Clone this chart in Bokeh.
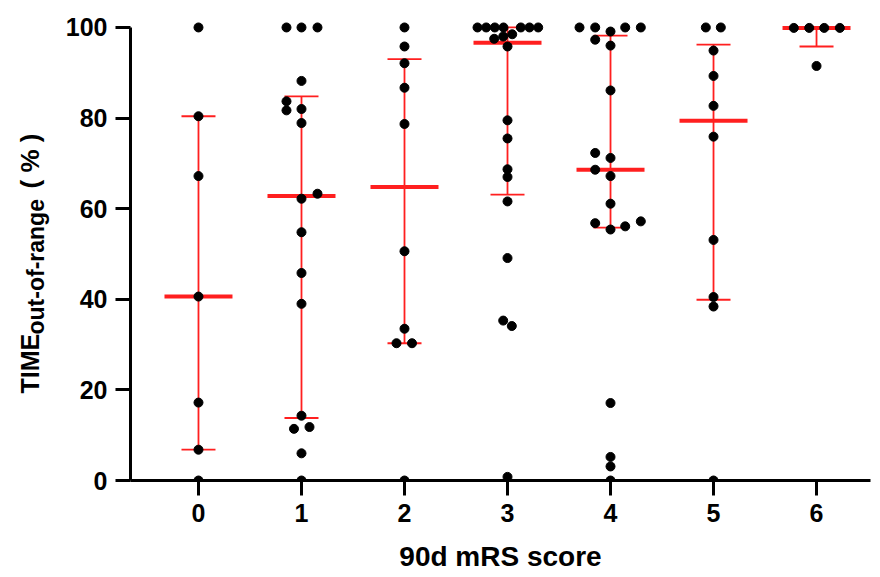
import math
from bokeh.plotting import figure
from bokeh.layouts import row
from bokeh.models import Range1d, FixedTicker
from bokeh.core.properties import value
from bokeh.embed import file_html
from bokeh.resources import INLINE

# ---------------- data ----------------
groups = [0, 1, 2, 3, 4, 5, 6]
tick_labels = ["0", "1", "2", "3", "4", "5", "6"]
y_ticks = [0, 20, 40, 60, 80, 100]
x_title = "90d mRS score"
y_title_parts = ["TIME", "out-of-range", "( % )"]

# individual values per mRS group, with beeswarm offsets (in pixels)
g0_vals = [100, 80.4, 67.2, 40.6, 17.2, 6.8, 0]
g0_swarm = [0, 0, 0, 0, 0, 0, 0]
g1_vals = [100, 100, 100, 88.2, 83.7, 81.7, 82.0, 78.9, 63.3, 62.2, 54.8, 45.8, 39.0, 14.3, 11.4, 11.8, 6.0, 0]
g1_swarm = [-15, 0, 16, 0, -15, -15, 0, 0, 16, 0, 0, 0, 0, 0, -7.5, 8, 0, 0]
g2_vals = [100, 95.8, 92.1, 86.7, 78.7, 50.6, 33.5, 30.3, 30.3, 0]
g2_swarm = [0, 0, 0, 0, 0, 0, 0, -8, 7.5, 0]
g3_vals = [100, 100, 100, 100, 100, 100, 100, 97.5, 98.0, 98.5, 95.8, 79.5, 75.5, 68.7, 67.0, 61.6, 49.1, 35.3, 34.1, 0.8]
g3_swarm = [-30, -21.3, -12.7, -4, 13.3, 22, 30.7, -13.3, -4.3, 4.7, 0, 0, 0, 0, 0, 0, 0, -4.3, 4.3, 0]
g4_vals = [100, 100, 100, 100, 99.1, 97.3, 96.0, 86.1, 72.3, 71.2, 68.6, 67.2, 61.1, 56.8, 55.4, 56.1, 57.2, 17.1, 5.2, 3.1, 0]
g4_swarm = [-31, -15.3, 14.7, 30.3, 0, -15.3, 0, 0, -15.3, 0, -15.3, 0, 0, -15.3, 0, 14.7, 30.3, 0, 0, 0, 0]
g5_vals = [100, 100, 94.9, 89.3, 82.7, 75.9, 53.1, 40.5, 38.4, 0]
g5_swarm = [-7.7, 7.3, 0, 0, 0, 0, 0, 0, 0, 0]
g6_vals = [99.9, 99.9, 99.9, 99.9, 91.5]
g6_swarm = [-22.7, -7.3, 7.7, 23.3, 0]

# median and interquartile range per group
medians = [40.6, 62.8, 64.8, 96.6, 68.6, 79.4, 99.9]
q1 = [6.8, 13.8, 30.3, 63.1, 55.8, 39.9, 95.8]
q3 = [80.4, 84.8, 93.0, 100.0, 98.2, 96.2, 99.9]

# ---------------- layout ----------------
W, H = 880, 577
TW = 60                   # width of the y-title strip
PX = 1.0 / 103.0          # data units per pixel along x
FONT = "Liberation Sans"

all_vals = [g0_vals, g1_vals, g2_vals, g3_vals, g4_vals, g5_vals, g6_vals]
all_swarm = [g0_swarm, g1_swarm, g2_swarm, g3_swarm, g4_swarm, g5_swarm, g6_swarm]
xs, ys = [], []
for g, vals, sw in zip(groups, all_vals, all_swarm):
    for v, o in zip(vals, sw):
        xs.append(g + o * PX)
        ys.append(v)

yr = Range1d(0, 102.2)
p = figure(width=W - TW, height=H,
           x_range=Range1d(-0.66, 6.524), y_range=yr,
           output_backend="svg", toolbar_location=None,
           min_border_left=130 - TW, min_border_right=10, min_border_top=17, min_border_bottom=97)
p.xgrid.visible = False
p.ygrid.visible = False
p.outline_line_color = None
p.background_fill_color = "white"
p.border_fill_color = "white"

# error bars (median + IQR)
red = "#ff1f1f"
cap_half = 17 * PX
med_half = 34 * PX
p.segment(x0=groups, y0=q1, x1=groups, y1=q3, line_color=red, line_width=1.8)
p.segment(x0=[g - cap_half for g in groups], y0=q1, x1=[g + cap_half for g in groups], y1=q1,
          line_color=red, line_width=1.8)
p.segment(x0=[g - cap_half for g in groups], y0=q3, x1=[g + cap_half for g in groups], y1=q3,
          line_color=red, line_width=1.8)
p.segment(x0=[g - med_half for g in groups], y0=medians, x1=[g + med_half for g in groups], y1=medians,
          line_color=red, line_width=4)

# points
p.scatter(x=xs, y=ys, size=9, fill_color="black", line_color="black")

# axes
for ax in (p.xaxis[0], p.yaxis[0]):
    ax.axis_line_width = 3
    ax.axis_line_color = "black"
    ax.major_tick_line_width = 3
    ax.major_tick_line_color = "black"
    ax.major_tick_out = 15
    ax.major_tick_in = 0
    ax.minor_tick_line_color = None
    ax.major_label_text_font = FONT
    ax.major_label_text_font_style = "bold"
    ax.major_label_text_font_size = "25px"
    ax.major_label_text_color = "black"

p.xaxis.ticker = FixedTicker(ticks=groups)
p.xaxis.major_label_overrides = {g: t for g, t in zip(groups, tick_labels)}
p.xaxis.major_label_standoff = 8
p.xaxis.axis_label = x_title
p.xaxis.axis_label_text_font = FONT
p.xaxis.axis_label_text_font_style = "bold"
p.xaxis.axis_label_text_font_size = "28px"
p.xaxis.axis_label_text_color = "black"
p.xaxis.axis_label_standoff = 16
p.yaxis.ticker = FixedTicker(ticks=y_ticks)
p.yaxis.bounds = (0, 100)
p.yaxis.major_label_standoff = 8

# y-axis title strip; its frame is aligned with the main frame, so it shares the y range
t = figure(width=TW, height=H, x_range=Range1d(0, TW), y_range=yr,
           output_backend="svg", toolbar_location=None,
           x_axis_location=None, y_axis_location=None,
           min_border_left=0, min_border_right=0, min_border_top=17, min_border_bottom=97)
t.xgrid.visible = False
t.ygrid.visible = False
t.outline_line_color = None
t.border_fill_color = "white"


def dy(py):
    # page pixel row -> value on the shared y range
    return (480 - py) / 4.53


part_x = [29, 35, 29]                        # baseline position (px)
part_y = [dy(393), dy(334), dy(188)]         # start of each piece
part_size = ["25px", "23px", "26px"]
for txt, x, y, s in zip(y_title_parts, part_x, part_y, part_size):
    t.text(x=[x], y=[y], text=[txt], angle=math.pi / 2, text_align="left",
           text_baseline="alphabetic", text_font=value(FONT), text_font_style="bold",
           text_font_size=s, text_color="black")

layout = row(t, p, spacing=0)
open("out.html", "w").write(file_html(layout, INLINE))
